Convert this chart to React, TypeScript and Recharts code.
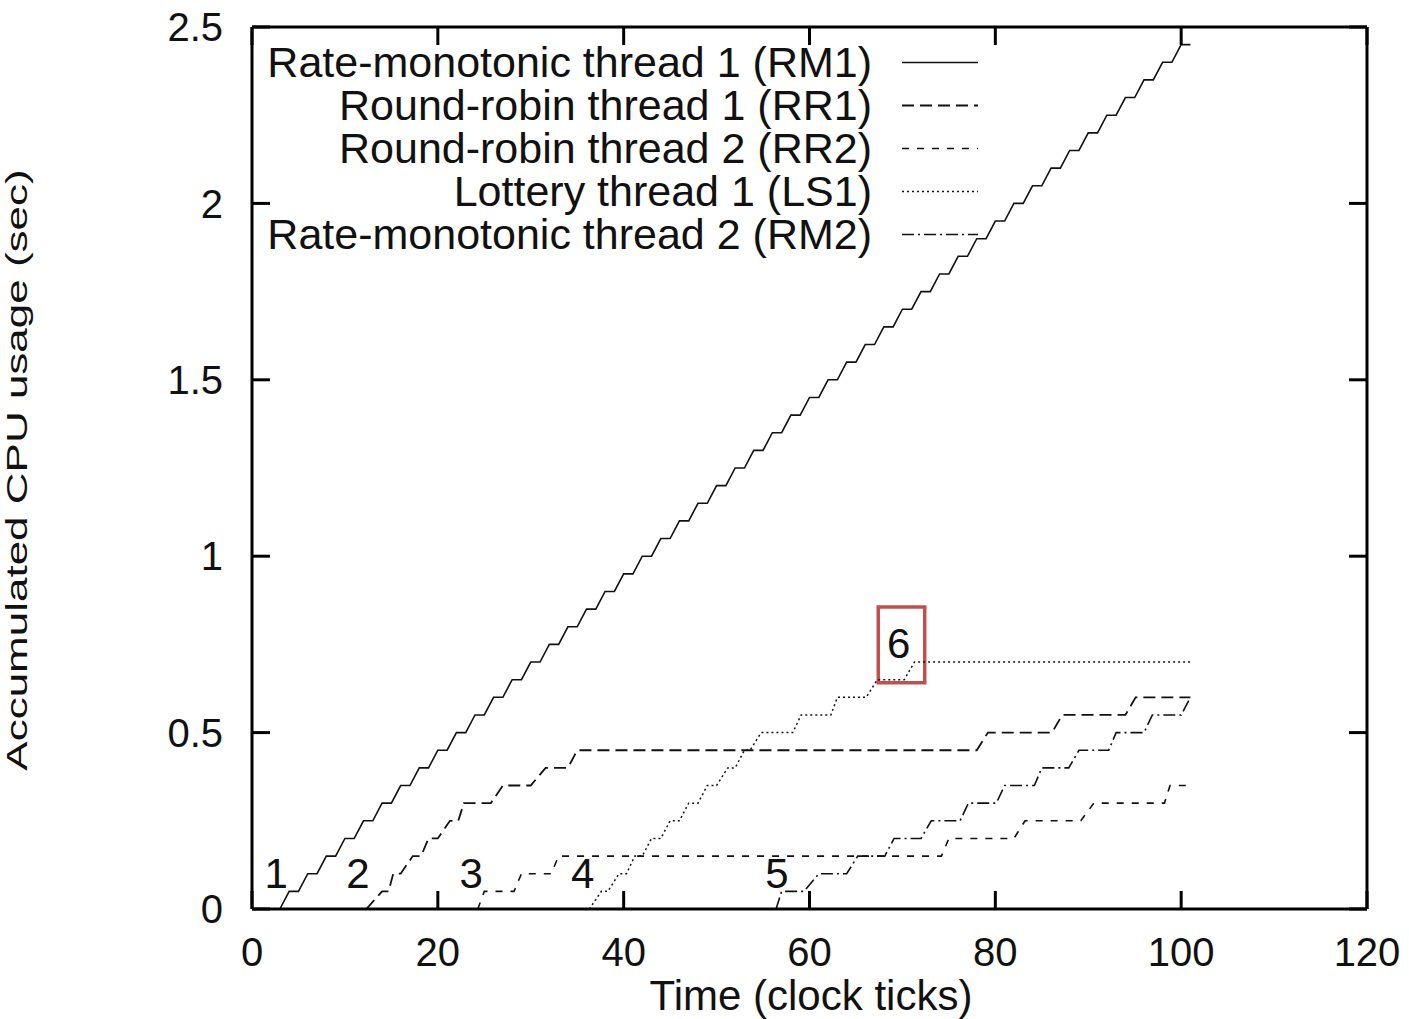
import { ReactElement } from 'react'
import {
  LineChart,
  Line,
  XAxis,
  YAxis,
  Legend,
  ReferenceDot,
  ReferenceArea,
} from 'recharts'

// accumulated CPU usage (sec) against time (clock ticks)
const rm1: [number, number][] = [
  [3, 0], [4, 0.05], [5, 0.05], [6, 0.1], [7, 0.1], [8, 0.15], [9, 0.15], [10, 0.2],
  [11, 0.2], [12, 0.25], [13, 0.25], [14, 0.3], [15, 0.3], [16, 0.35], [17, 0.35],
  [18, 0.4], [19, 0.4], [20, 0.45], [21, 0.45], [22, 0.5], [23, 0.5], [24, 0.55],
  [25, 0.55], [26, 0.6], [27, 0.6], [28, 0.65], [29, 0.65], [30, 0.7], [31, 0.7],
  [32, 0.75], [33, 0.75], [34, 0.8], [35, 0.8], [36, 0.85], [37, 0.85], [38, 0.9],
  [39, 0.9], [40, 0.95], [41, 0.95], [42, 1.0], [43, 1.0], [44, 1.05], [45, 1.05],
  [46, 1.1], [47, 1.1], [48, 1.15], [49, 1.15], [50, 1.2], [51, 1.2], [52, 1.25],
  [53, 1.25], [54, 1.3], [55, 1.3], [56, 1.35], [57, 1.35], [58, 1.4], [59, 1.4],
  [60, 1.45], [61, 1.45], [62, 1.5], [63, 1.5], [64, 1.55], [65, 1.55], [66, 1.6],
  [67, 1.6], [68, 1.65], [69, 1.65], [70, 1.7], [71, 1.7], [72, 1.75], [73, 1.75],
  [74, 1.8], [75, 1.8], [76, 1.85], [77, 1.85], [78, 1.9], [79, 1.9], [80, 1.95],
  [81, 1.95], [82, 2.0], [83, 2.0], [84, 2.05], [85, 2.05], [86, 2.1], [87, 2.1],
  [88, 2.15], [89, 2.15], [90, 2.2], [91, 2.2], [92, 2.25], [93, 2.25], [94, 2.3],
  [95, 2.3], [96, 2.35], [97, 2.35], [98, 2.4], [99, 2.4], [100, 2.45], [101, 2.45],
]

const rr1: [number, number][] = [
  [12.3, 0], [14, 0.05], [14.7, 0.05], [15.2, 0.1], [16, 0.1], [17.3, 0.15],
  [18.2, 0.15], [19, 0.2], [20, 0.2], [21.3, 0.25], [22.2, 0.25], [22.8, 0.3],
  [25.7, 0.3], [27, 0.35], [30, 0.35], [31.6, 0.4], [34, 0.4], [35, 0.45],
  [78, 0.45], [79.2, 0.5], [86.1, 0.5], [87.2, 0.55], [94, 0.55], [95.1, 0.6],
  [101, 0.6],
]

const rr2: [number, number][] = [
  [24.3, 0], [25, 0.05], [28.2, 0.05], [29, 0.1], [32.2, 0.1], [33, 0.15],
  [74.2, 0.15], [75, 0.2], [82, 0.2], [83.2, 0.25], [89.2, 0.25], [90.6, 0.3],
  [98.2, 0.3], [98.8, 0.35], [100.5, 0.35],
]

const ls1: [number, number][] = [
  [36.3, 0], [37.6, 0.05], [38.3, 0.05], [39.5, 0.1], [40.3, 0.1], [41.2, 0.15],
  [42, 0.15], [43, 0.2], [44, 0.2], [45, 0.25], [46, 0.25], [47, 0.3], [48, 0.3],
  [49, 0.35], [50, 0.35], [51.2, 0.4], [52, 0.4], [53, 0.45], [53.6, 0.45],
  [54.8, 0.5], [58.2, 0.5], [59.1, 0.55], [62.3, 0.55], [63, 0.6], [66.1, 0.6],
  [67.3, 0.65], [70.2, 0.65], [71.3, 0.7], [101, 0.7],
]

const rm2: [number, number][] = [
  [56.4, 0], [57, 0.05], [59.4, 0.05], [61, 0.1], [64, 0.1], [65.2, 0.15],
  [68.1, 0.15], [69.1, 0.2], [72, 0.2], [73.1, 0.25], [76.2, 0.25], [77.1, 0.3],
  [80.1, 0.3], [81, 0.35], [84.2, 0.35], [85, 0.4], [87.9, 0.4], [89, 0.45],
  [92.2, 0.45], [93, 0.5], [96, 0.5], [96.9, 0.55], [100, 0.55], [101, 0.6],
]

const xTicks = [0, 20, 40, 60, 80, 100, 120]
const yTicks = [0, 0.5, 1, 1.5, 2, 2.5]

// thread start markers and the highlighted one
const markers = [
  { label: '1', x: 2.6, y: 0.102 },
  { label: '2', x: 11.4, y: 0.102 },
  { label: '3', x: 23.6, y: 0.102 },
  { label: '4', x: 35.6, y: 0.102 },
  { label: '5', x: 56.5, y: 0.102 },
  { label: '6', x: 69.6, y: 0.754 },
]
const highlight = { x1: 67.4, x2: 72.4, y1: 0.641, y2: 0.856 }

const series = [
  { key: 'RM1', name: 'Rate-monotonic thread 1 (RM1)', points: rm1 },
  { key: 'RR1', name: 'Round-robin thread 1 (RR1)', points: rr1 },
  { key: 'RR2', name: 'Round-robin thread 2 (RR2)', points: rr2 },
  { key: 'LS1', name: 'Lottery thread 1 (LS1)', points: ls1 },
  { key: 'RM2', name: 'Rate-monotonic thread 2 (RM2)', points: rm2 },
]

const lineStyle: Record<string, { dash?: string; width: number }> = {
  RM1: { width: 1.6 },
  RR1: { dash: '12 6', width: 1.8 },
  RR2: { dash: '7 8', width: 1.6 },
  LS1: { dash: '2 3', width: 1.5 },
  RM2: { dash: '12 4 2 4', width: 1.6 },
}

const FONT = '"Liberation Sans", Arial, Helvetica, sans-serif'
const INK = '#111'

function LegendBox(): ReactElement {
  return (
    <div style={{ fontFamily: FONT }}>
      {series.map((s) => (
        <div
          key={s.key}
          style={{ display: 'flex', alignItems: 'center', height: 43 }}
        >
          <span
            style={{
              width: 872,
              textAlign: 'right',
              fontSize: 43,
              lineHeight: '40px',
              height: 40,
              color: INK,
              whiteSpace: 'nowrap',
            }}
          >
            {s.name}
          </span>
          <svg width={106} height={43}>
            <line
              x1={30}
              x2={106}
              y1={21.5}
              y2={21.5}
              stroke={INK}
              strokeWidth={lineStyle[s.key].width}
              strokeDasharray={lineStyle[s.key].dash}
            />
          </svg>
        </div>
      ))}
    </div>
  )
}

const NoLabel = () => <g />

export default function App(): ReactElement {
  const frame = { stroke: '#000', strokeWidth: 3 }
  const tickStyle = { fontSize: 40, fill: INK, fontFamily: FONT }
  return (
    <div style={{ position: 'absolute', left: 0, top: 0, background: '#fff', fontFamily: FONT }}>
      <LineChart
        width={1409}
        height={1019}
        margin={{ top: 26, right: 41, bottom: 50, left: 0 }}
      >
        <XAxis
          dataKey="x"
          type="number"
          domain={[0, 120]}
          ticks={xTicks}
          allowDataOverflow
          height={60}
          axisLine={frame}
          tickLine={frame}
          tickSize={-18}
          tickMargin={47}
          tick={tickStyle}
          label={{
            content: () => (
              <text x={811} y={1010} textAnchor="middle" fontSize={42} fill={INK} fontFamily={FONT}>
                Time (clock ticks)
              </text>
            ),
          }}
        />
        <XAxis
          xAxisId="top"
          dataKey="x"
          orientation="top"
          type="number"
          domain={[0, 120]}
          ticks={xTicks}
          allowDataOverflow
          height={1}
          axisLine={frame}
          tickLine={frame}
          tickSize={-18}
          tick={NoLabel}
        />
        <YAxis
          type="number"
          domain={[0, 2.5]}
          ticks={yTicks}
          allowDataOverflow
          width={252}
          axisLine={frame}
          tickLine={frame}
          tickSize={-18}
          tickMargin={47}
          tick={tickStyle}
          label={{
            content: () => (
              <text
                x={0}
                y={0}
                transform="translate(27,470) rotate(-90) scale(1,0.68)"
                textAnchor="middle"
                fontSize={44}
                fill={INK}
                fontFamily={FONT}
              >
                Accumulated CPU usage (sec)
              </text>
            ),
          }}
        />
        <YAxis
          yAxisId="right"
          orientation="right"
          type="number"
          domain={[0, 2.5]}
          ticks={yTicks}
          allowDataOverflow
          width={1}
          axisLine={frame}
          tickLine={frame}
          tickSize={-18}
          tick={NoLabel}
        />
        <Legend
          layout="vertical"
          verticalAlign="middle"
          align="center"
          content={() => <LegendBox />}
          wrapperStyle={{ left: 0, top: 40.5, width: 990 }}
        />
        {series.map((s) => (
          <Line
            key={s.key}
            name={s.name}
            data={s.points.map(([x, y]) => ({ x, y }))}
            dataKey="y"
            type="linear"
            stroke={INK}
            strokeWidth={lineStyle[s.key].width}
            strokeDasharray={lineStyle[s.key].dash}
            dot={false}
            activeDot={false}
            isAnimationActive={false}
          />
        ))}
        {/* invisible series that give the mirrored top and right axes their scales */}
        <Line
          xAxisId="top"
          yAxisId="right"
          data={rm1.map(([x, y]) => ({ x, y }))}
          dataKey="y"
          stroke="none"
          dot={false}
          activeDot={false}
          legendType="none"
          isAnimationActive={false}
        />
        {markers.map((m) => (
          <ReferenceDot
            key={m.label}
            x={m.x}
            y={m.y}
            r={0}
            fill="none"
            stroke="none"
            label={{
              value: m.label,
              position: 'center',
              fontSize: 42,
              fill: INK,
              fontFamily: FONT,
            }}
          />
        ))}
        <ReferenceArea
          x1={highlight.x1}
          x2={highlight.x2}
          y1={highlight.y1}
          y2={highlight.y2}
          fill="none"
          fillOpacity={0}
          stroke="#c0504d"
          strokeWidth={3.5}
        />
      </LineChart>
    </div>
  )
}
